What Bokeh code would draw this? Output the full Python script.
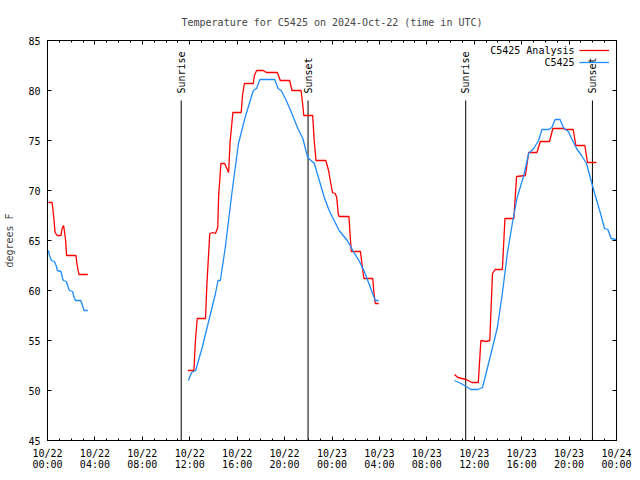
import math
from datetime import datetime, timezone

import numpy as np
from bokeh.plotting import figure
from bokeh.models import (Range1d, FixedTicker, DatetimeTickFormatter, DatetimeAxis,
                          LinearAxis, Legend, LegendItem, Label)
from bokeh.core.properties import value
from bokeh.embed import file_html
from bokeh.resources import INLINE

# ---------------- data (hours after 2024-10-22 00:00 UTC, degrees F) ----------------
start_utc = datetime(2024, 10, 22, 0, 0, tzinfo=timezone.utc)
span_hours = 48

red_h_1 = [0.08, 0.39, 0.44, 0.53, 0.64, 0.81, 1.14, 1.23, 1.36, 1.42, 1.53, 1.61, 2.40, 2.48, 2.65, 3.40]
red_t_1 = [68.8, 68.8, 68.3, 67.3, 65.8, 65.5, 65.5, 66.2, 66.5, 66.0, 65.0, 63.5, 63.5, 62.7, 61.6, 61.6]

red_h_2 = [11.85, 12.35, 12.48, 12.63, 13.33, 13.44, 13.69, 13.94, 14.17, 14.36, 14.44, 14.63, 14.94,
           15.28, 15.40, 15.64, 16.34, 16.45, 16.61, 17.36, 17.45, 17.64, 18.20, 18.47, 19.39, 19.64,
           20.43, 20.62, 21.39, 21.54, 21.62, 22.37, 22.50, 22.65, 23.48, 23.71, 23.90, 24.04, 24.27,
           24.40, 24.52, 24.60, 25.43, 25.52, 25.63, 26.40, 26.52, 26.69, 27.44, 27.52, 27.65, 27.94]
red_t_2 = [52.0, 52.0, 55.0, 57.2, 57.2, 60.5, 65.7, 65.8, 65.7, 66.3, 69.5, 72.7, 72.7,
           71.8, 74.8, 77.8, 77.8, 79.5, 80.7, 80.7, 81.5, 82.0, 82.0, 81.8, 81.8, 81.0,
           81.0, 80.0, 80.0, 78.5, 77.5, 77.5, 75.0, 73.0, 73.0, 72.0, 70.7, 69.8, 69.7,
           69.3, 67.7, 67.4, 67.4, 65.7, 63.9, 63.9, 62.7, 61.2, 61.2, 60.0, 58.7, 58.7]

red_h_3 = [34.33, 34.62, 35.31, 35.81, 36.34, 36.56, 36.98, 37.31, 37.54, 37.75, 38.37, 38.59, 39.34,
           39.57, 40.32, 40.59, 41.29, 41.57, 42.35, 42.63, 43.51, 43.66, 44.35, 44.57, 45.33, 45.55, 46.30]
red_t_3 = [51.6, 51.3, 51.1, 50.8, 50.8, 55.0, 54.9, 55.0, 61.7, 62.1, 62.1, 67.2, 67.2,
           71.4, 71.5, 73.8, 73.8, 74.9, 74.9, 76.2, 76.2, 76.1, 76.1, 74.5, 74.5, 72.8, 72.8]

blue_h_1 = [0.08, 0.17, 0.33, 0.58, 0.73, 0.83, 1.14, 1.25, 1.34, 1.59, 1.78, 1.86, 2.11, 2.25, 2.36,
            2.81, 2.95, 3.09, 3.40]
blue_t_1 = [64.0, 63.5, 63.0, 62.9, 62.5, 62.0, 61.9, 61.3, 61.0, 60.9, 60.2, 60.0, 59.9, 59.3, 59.0,
            59.0, 58.5, 58.0, 58.0]

blue_h_2 = [11.88, 12.16, 12.50, 13.05, 13.61, 14.17, 14.38, 14.58, 15.00, 15.55, 16.11, 16.67, 17.36,
            17.64, 17.92, 19.17, 19.45, 19.72, 20.14, 20.51, 21.12, 21.54, 21.95, 22.51, 22.93, 23.35,
            23.76, 24.18, 24.60, 25.29, 25.85, 26.27, 26.69, 27.24, 27.65, 27.94]
blue_t_2 = [51.0, 51.8, 52.0, 54.3, 57.0, 59.7, 61.0, 61.0, 64.3, 69.7, 74.7, 77.3, 80.0,
            80.2, 81.1, 81.1, 80.2, 80.0, 79.0, 78.0, 76.2, 75.2, 73.3, 72.7, 71.0, 69.3,
            68.0, 67.0, 66.0, 65.0, 63.8, 63.0, 62.0, 60.3, 59.0, 59.0]

blue_h_3 = [34.33, 34.89, 35.31, 35.73, 36.29, 36.70, 37.12, 37.54, 37.95, 38.37, 38.79, 39.21, 39.62,
            40.18, 40.59, 41.01, 41.43, 41.71, 42.27, 42.55, 42.82, 43.24, 43.51, 43.93, 44.21, 44.63,
            45.05, 45.47, 45.74, 46.16, 46.58, 46.99, 47.27, 47.55, 47.97]
blue_t_3 = [51.0, 50.7, 50.4, 50.1, 50.1, 50.3, 52.3, 54.3, 56.3, 59.7, 63.7, 66.7, 69.3,
            71.5, 73.7, 74.2, 75.0, 76.1, 76.1, 76.3, 77.1, 77.1, 76.3, 75.9, 75.2, 74.2,
            73.5, 72.7, 71.5, 69.7, 68.0, 66.2, 66.1, 65.2, 65.1]

series_names = ["C5425 Analysis", "C5425"]

event_labels = ["Sunrise", "Sunset", "Sunrise", "Sunset"]
event_hours = [11.28, 21.98, 35.28, 45.97]
event_top = 79.0

y_ticks = [45, 50, 55, 60, 65, 70, 75, 80, 85]
x_major_step_h = 4

# ---------------- helpers ----------------
H_MS = 3600 * 1000.0
T0 = start_utc.timestamp() * 1000.0


def to_ms(hours):
    return [T0 + h * H_MS for h in hours]


def join(segments):
    xs, ys = [], []
    for i, (h, t) in enumerate(segments):
        if i:
            xs.append(np.nan)
            ys.append(np.nan)
        xs.extend(to_ms(h))
        ys.extend(t)
    return xs, ys


red_x, red_y = join([(red_h_1, red_t_1), (red_h_2, red_t_2), (red_h_3, red_t_3)])
blue_x, blue_y = join([(blue_h_1, blue_t_1), (blue_h_2, blue_t_2), (blue_h_3, blue_t_3)])

FONT = "DejaVu Sans Mono"
FS = "10px"
RED = "#ff0000"
BLUE = "#1e8cff"

p = figure(width=632, height=472, output_backend="svg", toolbar_location=None,
           x_axis_type="datetime",
           x_range=Range1d(T0, T0 + span_hours * H_MS), y_range=Range1d(45, 85),
           min_border_left=47, min_border_right=16, min_border_top=40, min_border_bottom=32)

p.title.text = "Temperature for C5425 on 2024-Oct-22 (time in UTC)"
p.title.text_font = FONT
p.title.text_font_size = FS
p.title.text_font_style = "normal"
p.title.align = "center"
p.title.standoff = 25

p.outline_line_color = "black"
p.outline_line_width = 1
p.xgrid.visible = False
p.ygrid.visible = False

x_major = to_ms(list(range(0, span_hours + 1, x_major_step_h)))
x_minor = to_ms(list(range(0, span_hours + 1)))
xticker = FixedTicker(ticks=x_major, minor_ticks=x_minor)
yticker = FixedTicker(ticks=y_ticks)
fmt = "%m/%d\n%H:%M"
xfmt = DatetimeTickFormatter(minutes=fmt, hours=fmt, days=fmt, months=fmt, years=fmt)


def style_axis(ax, labels=True):
    ax.axis_line_color = "black"
    ax.major_tick_in = 4
    ax.major_tick_out = 0
    ax.minor_tick_in = 2
    ax.minor_tick_out = 0
    ax.major_tick_line_color = "black"
    ax.minor_tick_line_color = "black"
    ax.major_label_text_font = FONT
    if labels:
        ax.major_label_text_font_size = FS
        ax.major_label_text_color = "black"
    else:
        ax.major_label_text_font_size = "1px"
        ax.major_label_text_color = None
        ax.major_label_standoff = 0


xa = p.xaxis[0]
xa.ticker = xticker
xa.formatter = xfmt
style_axis(xa)
xa.major_label_standoff = 7
xa.major_label_text_line_height = 1.0

ya = p.yaxis[0]
ya.ticker = yticker
style_axis(ya)
ya.minor_tick_line_color = None
ya.major_label_standoff = 7
ya.axis_label = "degrees F"
ya.axis_label_text_font = FONT
ya.axis_label_text_font_size = FS
ya.axis_label_text_font_style = "normal"
ya.axis_label_standoff = 10

top = DatetimeAxis(ticker=xticker, formatter=xfmt)
style_axis(top, labels=False)
p.add_layout(top, "above")
right = LinearAxis(ticker=yticker)
style_axis(right, labels=False)
right.minor_tick_line_color = None
p.add_layout(right, "right")

# sunrise / sunset markers
ev_x = to_ms(event_hours)
p.segment(x0=ev_x, y0=[45] * len(ev_x), x1=ev_x, y1=[event_top] * len(ev_x),
          line_color="black", line_width=1)
p.text(x=ev_x, y=[event_top] * len(ev_x), text=event_labels, angle=math.pi / 2,
       text_align="left", text_baseline="middle", y_offset=-7,
       text_font=value(FONT), text_font_size=FS, text_color="black")

r_red = p.line(red_x, red_y, line_color=RED, line_width=1.3)
r_blue = p.line(blue_x, blue_y, line_color=BLUE, line_width=1.3)

# legend: line samples from a Legend, names as right-aligned labels to their left
legend = Legend(items=[LegendItem(label=series_names[0], renderers=[r_red]),
                       LegendItem(label=series_names[1], renderers=[r_blue])],
                location=(532, 372), padding=0, margin=0, spacing=0,
                glyph_width=30, glyph_height=12, label_height=12, label_width=0,
                label_standoff=0, label_text_font=FONT, label_text_font_size="1px",
                label_text_color=None,
                border_line_color=None, background_fill_alpha=0)
p.add_layout(legend)
for i, name in enumerate(series_names):
    p.add_layout(Label(x=527, y=390 - 12 * i, x_units="screen", y_units="screen",
                       text=name, text_align="right", text_baseline="middle",
                       text_font=FONT, text_font_size=FS, text_color="black"))

open("out.html", "w").write(file_html(p, INLINE))
